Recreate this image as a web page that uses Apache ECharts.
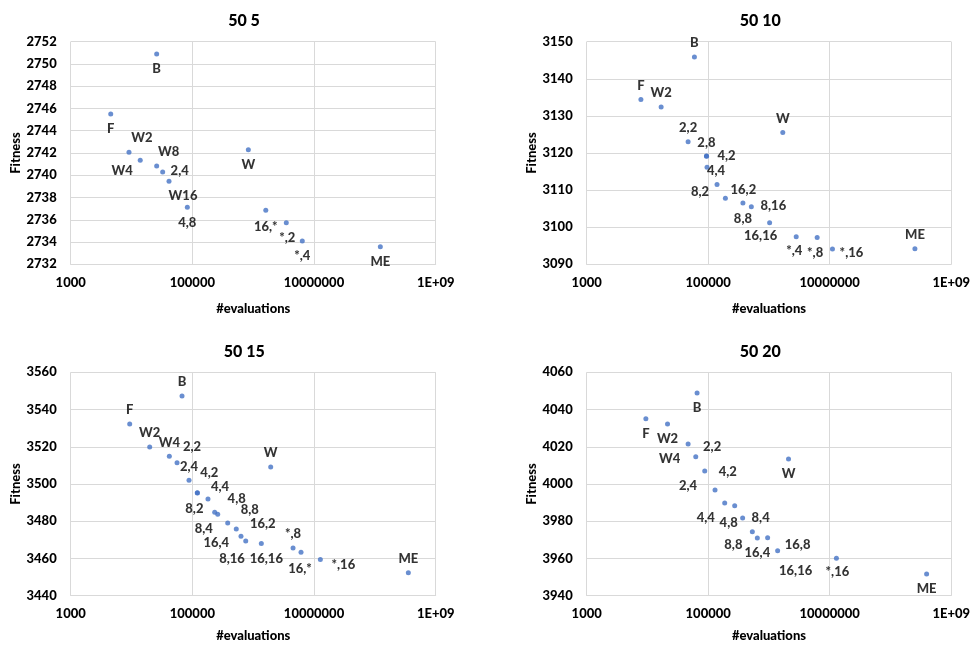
<!DOCTYPE html>
<html>
<head>
<meta charset="utf-8">
<script src="https://cdn.jsdelivr.net/npm/echarts@6/dist/echarts.min.js"></script>
<style>
html,body{margin:0;padding:0;background:#fff;}
#chart{width:973px;height:646px;}
</style>
</head>
<body>
<div id="chart"></div>
<script>
// ---- data ----
const titles = ['50 5', '50 10', '50 15', '50 20'];
const xTickLabels = ['1000', '100000', '10000000', '1E+09'];

const labels505 = ['B','F','W2','W4','W8','2,4','W16','4,8','W','16,*','*,2','*,4','ME'];
const evals505 = [25900, 4550, 9080, 13900, 25900, 32500, 41300, 82600, 832000, 1610000, 3500000, 6410000, 123000000];
const fitness505 = [2750.9, 2745.5, 2742.06, 2741.34, 2740.83, 2740.29, 2739.46, 2737.12, 2742.3, 2736.85, 2735.74, 2734.09, 2733.58];

const labels5010 = ['B','F','W2','2,2','2,8','4,2','4,4','8,2','16,2','8,8','8,16','16,16','W','*,4','*,8','*,16','ME'];
const evals5010 = [59300, 7800, 16800, 46700, 93500, 94000, 95700, 139700, 191800, 373000, 513000, 1026000, 1690000, 2810000, 6220000, 11100000, 253000000];
const fitness5010 = [3145.9, 3134.4, 3132.4, 3123.0, 3119.2, 3119.1, 3116.15, 3111.5, 3107.8, 3106.5, 3105.5, 3101.2, 3125.5, 3097.4, 3097.2, 3094.1, 3094.2];

const labels5015 = ['F','W2','W4','2,2','B','2,4','4,2','8,2','4,4','4,8','8,8','8,4','16,4','8,16','16,2','16,16','W','*,8','16,*','*,16','ME'];
const evals5015 = [9330, 19900, 41800, 56000, 67600, 88100, 120500, 121000, 180700, 232800, 261000, 381000, 527000, 630000, 754000, 1360000, 1940000, 4520000, 6110000, 12700000, 355000000];
const fitness5015 = [3532.2, 3519.9, 3514.9, 3511.4, 3547.3, 3502.0, 3495.3, 3495.2, 3491.9, 3484.8, 3483.7, 3479.0, 3475.8, 3472.0, 3469.4, 3468.1, 3509.1, 3465.6, 3463.4, 3459.5, 3452.3];

const labels5020 = ['B','F','W2','2,2','W4','4,2','2,4','4,4','4,8','8,4','8,8','16,4','16,8','16,16','W','*,16','ME'];
const evals5020 = [65600, 9420, 21400, 46700, 62400, 87700, 129500, 187000, 273000, 369000, 533000, 644000, 951000, 1390000, 2100000, 12900000, 394000000];
const fitness5020 = [4048.9, 4035.1, 4032.2, 4021.5, 4014.7, 4007.0, 3996.8, 3989.8, 3988.3, 3981.7, 3974.4, 3971.0, 3971.1, 3964.1, 4013.4, 3960.1, 3951.6];

const yMin = [2732, 3090, 3440, 3940];
const yMax = [2752, 3150, 3560, 4060];
const yStep = [2, 10, 20, 20];

// ---- label placement (layout, px offsets of label centre from point) ----
const off505 = [[0,15],[0,15],[13,-15],[-18,10],[12,-14],[17,-1],[14,15],[0,15],[0,15],[0,16],[1,15],[0,15],[0,15]];
const off5010 = [[0,-14],[0,-14],[0,-14],[0,-14],[0,-13],[20,-1],[9,4],[-17,7],[18,-8],[0,16],[22,-1],[-9,13],[0,-14],[-2,14],[-2,15],[19,4],[0,-14]];
const off5015 = [[0,-14],[0,-14],[0,-13],[15,-16],[0,-14],[0,-13],[12,-20],[-3,16],[12,-12],[22,-13],[32,-5],[-24,6],[-20,14],[-9,23],[17,-17],[5,15],[0,-14],[0,-14],[-1,17],[23,5],[0,-14]];
const off5020 = [[0,15],[0,15],[0,15],[24,3],[-26,2],[23,1],[-27,-4],[-19,15],[-6,17],[18,0],[-19,13],[0,15],[30,7],[18,20],[0,15],[1,14],[0,15]];

const panels = [
  {labels: labels505, evals: evals505, fit: fitness505, off: off505},
  {labels: labels5010, evals: evals5010, fit: fitness5010, off: off5010},
  {labels: labels5015, evals: evals5015, fit: fitness5015, off: off5015},
  {labels: labels5020, evals: evals5020, fit: fitness5020, off: off5020}
];

const gridBoxes = [
  {left: 70.7, top: 41.7, width: 365, height: 222.6},
  {left: 586.7, top: 41.7, width: 365.3, height: 222.6},
  {left: 70.7, top: 372.3, width: 365, height: 223.4},
  {left: 586.7, top: 372.3, width: 365.3, height: 223.4}
];
const titlePos = [[239, 8], [755.3, 8], [239.3, 339], [755.3, 339]];
const xNameGap = [38, 38, 34, 34];

const FONT = 'Lato';
const FW = 900;
const TXT = '#000000';
const GRIDC = '#d9d9d9';

const option = {
  animation: false,
  backgroundColor: '#ffffff',
  title: titles.map((t, i) => ({
    text: t, left: titlePos[i][0], top: titlePos[i][1], textAlign: 'center',
    textStyle: {fontFamily: FONT, fontWeight: FW, fontSize: 16, color: TXT}
  })),
  grid: gridBoxes.map(g => Object.assign({containLabel: false}, g)),
  xAxis: gridBoxes.map((g, i) => ({
    type: 'log', logBase: 10, gridIndex: i, min: 1000, max: 1e9, interval: 2,
    name: '#evaluations', nameLocation: 'middle', nameGap: xNameGap[i],
    nameTextStyle: {fontFamily: FONT, fontWeight: FW, fontSize: 13, color: TXT},
    axisLine: {show: true, lineStyle: {color: GRIDC, width: 1}},
    axisTick: {show: false},
    splitLine: {show: true, lineStyle: {color: GRIDC, width: 1}},
    axisLabel: {
      fontFamily: FONT, fontWeight: FW, fontSize: 13, color: TXT, margin: 12,
      formatter: v => xTickLabels[Math.round((Math.log10(v) - 3) / 2)]
    }
  })),
  yAxis: gridBoxes.map((g, i) => ({
    type: 'value', gridIndex: i, min: yMin[i], max: yMax[i], interval: yStep[i],
    name: 'Fitness', nameLocation: 'middle', nameGap: 43, nameRotate: 90,
    nameTextStyle: {fontFamily: FONT, fontWeight: FW, fontSize: 13, color: TXT},
    axisLine: {show: false},
    axisTick: {show: false},
    splitLine: {show: true, lineStyle: {color: GRIDC, width: 1}},
    axisLabel: {fontFamily: FONT, fontWeight: FW, fontSize: 13, color: TXT, margin: 14,
      formatter: v => String(Math.round(v))}
  })),
  series: panels.map((p, i) => ({
    type: 'scatter', xAxisIndex: i, yAxisIndex: i,
    symbol: 'circle', symbolSize: 5,
    itemStyle: {color: '#4472C4'},
    label: {
      show: true, position: 'inside', formatter: '{b}',
      fontFamily: FONT, fontWeight: FW, fontSize: 13, color: TXT,
      textBorderWidth: 0
    },
    emphasis: {disabled: true},
    data: p.evals.map((x, k) => ({
      name: p.labels[k],
      value: [x, p.fit[k]],
      label: {offset: p.off[k]}
    }))
  }))
};

const chart = echarts.init(document.getElementById('chart'), null, {renderer: 'canvas'});
chart.setOption(option);
</script>
</body>
</html>
